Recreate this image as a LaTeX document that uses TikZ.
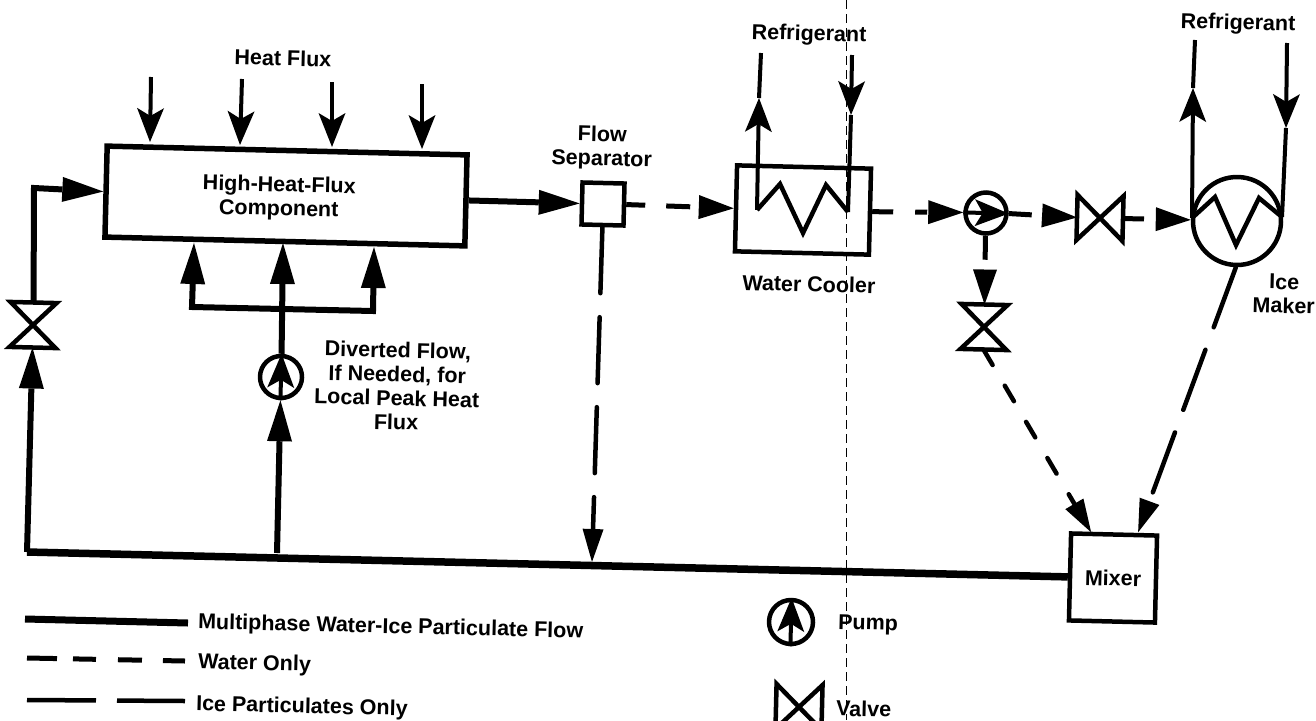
\documentclass[tikz,border=0pt]{standalone}
\usepackage{fontspec}
\setmainfont{Liberation Sans}
\usetikzlibrary{arrows.meta}
\tikzset{
	flowhead/.tip={Triangle[length=41pt,width=25pt,line width=0pt]},
	waterhead/.tip={Triangle[length=35pt,width=24pt,line width=0pt]},
	icehead/.tip={Triangle[length=33pt,width=21pt,line width=0pt]},
	notchhead/.tip={Stealth[length=34pt,width=27pt,inset=8pt,line width=0pt]},
	every node/.style={rotate=-1.4,font=\fontsize{21.5}{24}\selectfont\bfseries},
	unitbox/.style={draw,line width=4.5pt,inner sep=0pt},
	roundunit/.style={draw,circle,line width=4.5pt,inner sep=0pt},
	valvebox/.style={inner sep=0pt,outer sep=0pt,minimum width=46pt,minimum height=45pt},
	valveline/.style={line width=4.5pt,line join=miter},
	mainflow/.style={line width=7.5pt},
	flow/.style={line width=6pt},
	wateronly/.style={line width=5pt},
	iceonly/.style={line width=4.5pt,line cap=round},
	refline/.style={line width=4pt},
	coil/.style={line width=4.5pt,line join=miter},
	fold/.style={line width=0.8pt,dash pattern=on 9pt off 5pt}
}
\begin{document}
\begin{tikzpicture}[x=1pt,y=-1pt]
	\useasboundingbox (0,0) rectangle (1316,720);
	\fill[white] (0,0) rectangle (1316,720);
	\draw[fold] (846,0) -- (846,720);

	\node[unitbox,line width=5.5pt,minimum width=360pt,minimum height=91pt] (comp) at (286,196) {};
	\node[align=center] (comptext) at (279,198) {High-Heat-Flux\\Component};
	\node[unitbox,minimum width=42pt,minimum height=42pt] (sep) at (603,204) {};
	\node[unitbox,minimum width=134pt,minimum height=86pt] (cooler) at (803,210) {};
	\node[unitbox,minimum width=86pt,minimum height=87pt] (mixer) at (1113,578) {Mixer};
	\node[roundunit,minimum size=42pt] (pumpA) at (281,377) {};
	\node[roundunit,minimum size=41pt] (pumpB) at (986,213) {};
	\node[roundunit,minimum size=88pt] (icemaker) at (1237,221) {};
	\node[valvebox] (valveA) at (33,325) {};
	\node[valvebox] (valveB) at (1100,218) {};
	\node[valvebox] (valveC) at (984,327) {};

	\node (heat) at (283,58) {Heat Flux};
	\node[align=center] (septext) at (602,148) {Flow\\Separator};
	\node[align=center] (divtext) at (397,386) {Diverted Flow,\\If Needed, for\\Local Peak Heat\\Flux};
	\node (cooltext) at (809,284) {Water Cooler};
	\node[align=center] (icetext) at (1284,294) {Ice\\Maker};
	\node (refA) at (809,35) {Refrigerant};
	\node (refB) at (1238,24) {Refrigerant};

	\draw[valveline] (valveA.north west)--(valveA.north east)--(valveA.south west)--(valveA.south east)--cycle;
	\draw[valveline] (valveC.north west)--(valveC.north east)--(valveC.south west)--(valveC.south east)--cycle;
	\draw[valveline] (valveB.north west)--(valveB.south east)--(valveB.north east)--(valveB.south west)--cycle;

	\coordinate (bend) at (27,552);
	\coordinate (corner) at (34,188);
	\coordinate (tee) at (277,553);
	\coordinate (barL) at (192,307);
	\coordinate (barM) at (282,309);
	\coordinate (barR) at (373,311);
	\coordinate (inL) at (194,243);
	\coordinate (inM) at (283,243);
	\coordinate (inR) at (374,247);
	\coordinate (sepin) at (592,562);

	\draw[mainflow] (mixer.west) -- (bend);
	\draw[flow,-{flowhead}] (bend) -- (valveA.south);
	\draw[flow,-{flowhead}] (valveA.north) -- (corner) -- (comp.west);
	\draw[flow,-{flowhead}] (tee) -- (pumpA.south);
	\draw[flow,-{flowhead}] (pumpA.north) -- (inM);
	\draw[flow,-{flowhead}] (barM) -- (barL) -- (inL);
	\draw[flow,-{flowhead}] (barM) -- (barR) -- (inR);
	\draw[flow,-{flowhead}] (comp.east) -- (sep.west);
	\draw[refline,-{notchhead}] (pumpA.south) -- (pumpA.north);

	\draw[iceonly,-{icehead},dash pattern=on 66pt off 24pt] (sep.south) -- (sepin);
	\draw[wateronly,-{waterhead},dash pattern=on 19pt off 21pt on 24pt off 60pt] (sep.east) -- (cooler.west);
	\draw[wateronly,-{waterhead},dash pattern=on 21pt off 22pt on 12pt off 60pt] (cooler.east) -- (pumpB.west);
	\draw[refline,-{notchhead}] (pumpB.west) -- (pumpB.east);
	\draw[wateronly,-{waterhead},dash pattern=on 23pt off 60pt] (pumpB.east) -- (valveB.west);
	\draw[wateronly,-{waterhead},dash pattern=on 21pt off 60pt] (valveB.east) -- (icemaker.west);
	\draw[wateronly,-{waterhead},dash pattern=on 24pt off 60pt] (pumpB.south) -- (valveC.north);
	\draw[iceonly,-{icehead},dash pattern=on 18pt off 24pt] (valveC.south) -- ([xshift=-23pt]mixer.north);
	\draw[iceonly,-{icehead},dash pattern=on 64pt off 24pt] (icemaker.south) -- ([xshift=24pt]mixer.north);

	\coordinate (hfA) at (151,77);
	\coordinate (hfB) at (242,79);
	\coordinate (hfC) at (332,82);
	\coordinate (hfD) at (422,84);
	\coordinate (hfAin) at (150,142);
	\coordinate (hfBin) at (240,145);
	\coordinate (hfCin) at (332,147);
	\coordinate (hfDin) at (422,149);
	\draw[refline,-{notchhead}] (hfA) -- (hfAin);
	\draw[refline,-{notchhead}] (hfB) -- (hfBin);
	\draw[refline,-{notchhead}] (hfC) -- (hfCin);
	\draw[refline,-{notchhead}] (hfD) -- (hfDin);

	\coordinate (coolA) at (757,210);
	\coordinate (coolB) at (780,184);
	\coordinate (coolC) at (803,233);
	\coordinate (coolD) at (826,185);
	\coordinate (coolE) at (848,212);
	\draw[coil] (coolA)--(coolB)--(coolC)--(coolD)--(coolE);
	\coordinate (coolOut) at (761,53);
	\coordinate (coolOutTip) at (759,98);
	\coordinate (coolIn) at (852,55);
	\coordinate (coolInTip) at (851,115);
	\draw[refline,-{notchhead}] (coolA) -- (coolOutTip);
	\draw[refline] (coolOutTip) -- (coolOut);
	\draw[refline,-{notchhead}] (coolIn) -- (coolInTip);
	\draw[refline] (coolInTip) -- (coolE);

	\coordinate (iceA) at (1192,218);
	\coordinate (iceB) at (1215,197);
	\coordinate (iceC) at (1236,245);
	\coordinate (iceD) at (1259,198);
	\coordinate (iceE) at (1282,217);
	\draw[coil] (iceA)--(iceB)--(iceC)--(iceD)--(iceE);
	\coordinate (iceOut) at (1195,40);
	\coordinate (iceOutTip) at (1193,88);
	\coordinate (iceIn) at (1287,43);
	\coordinate (iceInTip) at (1286,128);
	\draw[refline,-{notchhead}] (iceA) -- (iceOutTip);
	\draw[refline] (iceOutTip) -- (iceOut);
	\draw[refline,-{notchhead}] (iceIn) -- (iceInTip);
	\draw[refline] (iceInTip) -- (iceE);

	\coordinate (keyA) at (25,619);
	\coordinate (keyAe) at (188,623);
	\coordinate (keyB) at (27,658);
	\coordinate (keyBe) at (185,661);
	\coordinate (keyC) at (27,700);
	\coordinate (keyCe) at (185,701);
	\draw[line width=7pt] (keyA) -- (keyAe);
	\draw[wateronly,dash pattern=on 30pt off 16pt on 23pt off 22pt on 24pt off 21pt] (keyB) -- (keyBe);
	\draw[iceonly,line cap=butt,dash pattern=on 69pt off 21pt] (keyC) -- (keyCe);
	\node[anchor=west,inner sep=0pt] (keyAtext) at (198,623) {Multiphase Water-Ice Particulate Flow};
	\node[anchor=west,inner sep=0pt] (keyBtext) at (198,663) {Water Only};
	\node[anchor=west,inner sep=0pt] (keyCtext) at (196,705) {Ice Particulates Only};

	\node[roundunit,minimum size=44pt] (pumpkey) at (791,622) {};
	\draw[refline,-{notchhead}] (pumpkey.south) -- (pumpkey.north);
	\node[anchor=west,inner sep=0pt] (pumptext) at (838,624) {Pump};
	\node[valvebox] (valvekey) at (799,707) {};
	\draw[valveline] (valvekey.north west)--(valvekey.south east)--(valvekey.north east)--(valvekey.south west)--cycle;
	\node[anchor=west,inner sep=0pt] (valvetext) at (836,708) {Valve};
\end{tikzpicture}
\end{document}
